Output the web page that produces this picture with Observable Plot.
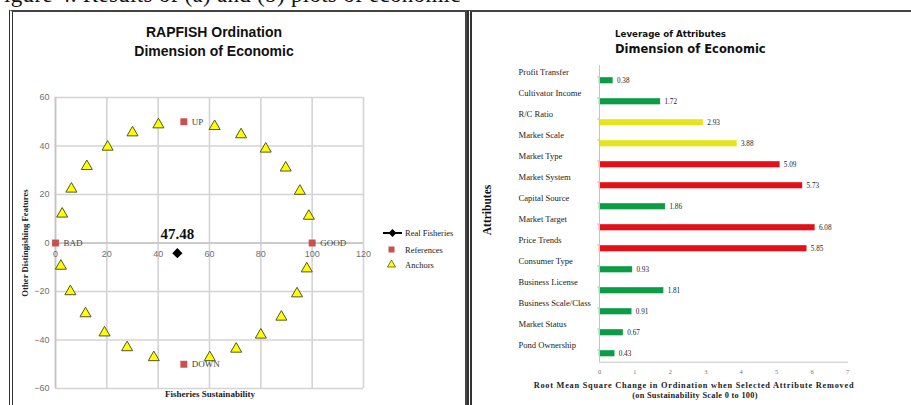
<!DOCTYPE html>
<html><head><meta charset="utf-8">
<script src="https://cdn.jsdelivr.net/npm/d3@7"></script>
<script src="https://cdn.jsdelivr.net/npm/@observablehq/plot@0.6"></script>
<style>
body{margin:0;background:#fff;}
#page{position:relative;width:911px;height:405px;overflow:hidden;background:#fff;font-family:"Liberation Serif",serif;}
.abs{position:absolute;white-space:nowrap;}
</style></head><body><div id="page"></div>
<script>
// ---- Left chart data: RAPFISH ordination ----
const anchorX = [2.6, 6.2, 12.2, 20.3, 30, 40.1, 62, 72.3, 81.9, 89.7, 95.2, 98.7,
                 2.1, 5.8, 11.7, 19.1, 27.9, 38.3, 60.1, 70.4, 80, 88, 94.1, 97.9];
const anchorY = [12, 22.3, 31.6, 39.6, 45.5, 48.8, 48.1, 44.7, 38.8, 31, 21.4, 11.1,
                 -9.5, -20, -29.1, -37, -43.1, -47.2, -47.2, -43.7, -37.9, -30.5, -20.9, -10.6];
const refLabels = ["BAD", "GOOD", "UP", "DOWN"];
const refX = [0, 100, 50, 50];
const refY = [0, 0, 50, -50];
const fisheriesX = [47.48];
const fisheriesY = [-4.2];
const ordXTicks = [0, 20, 40, 60, 80, 100, 120];
const ordYTicks = [-60, -40, -20, 0, 20, 40, 60];

// ---- Right chart data: leverage of attributes ----
const attributes = ["Profit Transfer", "Cultivator Income", "R/C Ratio", "Market Scale", "Market Type",
  "Market System", "Capital Source", "Market Target", "Price Trends", "Consumer Type",
  "Business License", "Business Scale/Class", "Market Status", "Pond Ownership"];
const leverage = [0.38, 1.72, 2.93, 3.88, 5.09, 5.73, 1.86, 6.08, 5.85, 0.93, 1.81, 0.91, 0.67, 0.43];
const levTicks = [0, 1, 2, 3, 4, 5, 6, 7];

const anchors = anchorX.map((x, i) => ({x, y: anchorY[i]}));
const refs = refLabels.map((l, i) => ({label: l, x: refX[i], y: refY[i]}));
const fisheries = fisheriesX.map((x, i) => ({x, y: fisheriesY[i]}));
const lev = attributes.map((a, i) => ({a, v: leverage[i]}));

const page = document.getElementById("page");
function add(html, css) {
  const d = document.createElement("div");
  d.className = "abs";
  d.innerHTML = html;
  Object.assign(d.style, css);
  page.appendChild(d);
  return d;
}

// partial caption at top (cut off in the source image)
add("Figure 4. Results of (a) and (b) plots of economic", {left: "-9px", top: "-17px", fontSize: "23px", fontFamily: "Liberation Serif", color: "#111", lineHeight: "23px", letterSpacing: "0.3px"});

// panel frames
add("", {left: "9px", top: "10px", width: "452px", height: "420px", borderLeft: "4px double #333", borderTop: "2px solid #444", borderRight: "2px solid #444"});
add("", {left: "467px", top: "10px", width: "460px", height: "420px", borderLeft: "5px double #333", borderTop: "2px solid #444"});

// ---- left chart ----
add("RAPFISH Ordination", {left: "214px", top: "24px", transform: "translateX(-50%)", fontFamily: "Liberation Sans", fontWeight: "bold", fontSize: "14px", color: "#111", lineHeight: "16px"});
add("Dimension of Economic", {left: "214px", top: "43px", transform: "translateX(-50%)", fontFamily: "Liberation Sans", fontWeight: "bold", fontSize: "14px", color: "#111", lineHeight: "16px"});

const left = Plot.plot({
  width: 445, height: 345,
  marginLeft: 41, marginRight: 96, marginTop: 37, marginBottom: 17,
  x: {domain: [0, 120], axis: null},
  y: {domain: [-60, 60]},
  style: {fontFamily: "Liberation Sans", fontSize: "9px", background: "transparent", overflow: "visible"},
  marks: [
    Plot.gridX(ordXTicks, {stroke: "#d4d4d4", strokeOpacity: 1, strokeWidth: 1.6}),
    Plot.gridY(ordYTicks, {stroke: "#d4d4d4", strokeOpacity: 1, strokeWidth: 1.6}),
    Plot.ruleX([0], {stroke: "#c4c4c4", strokeWidth: 1.6}),
    Plot.ruleY([0], {stroke: "#c4c4c4", strokeWidth: 1.6}),
    Plot.axisY(ordYTicks, {tickSize: 0, tickPadding: 6, label: null, fill: "#707070", fontSize: 9}),
    Plot.text(ordXTicks, {x: d => d, y: () => 0, dy: 11, text: d => String(d), fill: "#707070", fontSize: 9}),
    Plot.dot(anchors, {x: "x", y: "y", symbol: "triangle", r: 4.1, fill: "#ffff00", stroke: "#55552a", strokeWidth: 1}),
    Plot.dot(refs, {x: "x", y: "y", symbol: "square", r: 3.9, fill: "#c9504d", stroke: "none"}),
    Plot.text(refs, {x: "x", y: "y", text: "label", dx: 8, textAnchor: "start", fontFamily: "Liberation Serif", fontSize: 9, fill: "#444"}),
    Plot.dot(fisheries, {x: "x", y: "y", symbol: "diamond2", r: 4.6, fill: "#000", stroke: "none"}),
    Plot.text(fisheries, {x: "x", y: "y", text: d => d.x.toFixed(2), dy: -19, fontFamily: "Liberation Serif", fontWeight: "bold", fontSize: 15, fill: "#111"})
  ]
});
left.style.position = "absolute";
left.style.left = "14px";
left.style.top = "60px";
page.appendChild(left);

add("Fisheries Sustainability", {left: "210px", top: "389px", transform: "translateX(-50%)", fontFamily: "Liberation Serif", fontWeight: "bold", fontSize: "9px", color: "#222", lineHeight: "11px"});
add("Other Distingishing Features", {left: "25px", top: "243px", transform: "translate(-50%,-50%) rotate(-90deg)", fontFamily: "Liberation Serif", fontWeight: "bold", fontSize: "8.7px", color: "#222"});

// legend
add(`<svg width="80" height="50" style="display:block">
  <line x1="3" y1="13" x2="22" y2="13" stroke="#000" stroke-width="2"/>
  <path d="M12.5,9 L16.5,13 L12.5,17 L8.5,13Z" fill="#000"/>
  <rect x="8.5" y="26.5" width="6" height="6" fill="#c9504d"/>
  <path d="M11.5,40 L15.5,47 L7.5,47Z" fill="#ffff00" stroke="#55552a" stroke-width="0.8"/>
</svg>`, {left: "380px", top: "220px"});
add("Real Fisheries", {left: "405px", top: "228px", fontSize: "8.5px", color: "#222", lineHeight: "10px"});
add("References", {left: "405px", top: "244.5px", fontSize: "8.5px", color: "#222", lineHeight: "10px"});
add("Anchors", {left: "405px", top: "260px", fontSize: "8.5px", color: "#222", lineHeight: "10px"});

// ---- right chart ----
add("Leverage of Attributes", {left: "615px", top: "29px", fontFamily: "DejaVu Sans", fontWeight: "bold", fontSize: "8.7px", color: "#111", lineHeight: "11px"});
add("Dimension of Economic", {left: "615px", top: "43px", fontFamily: "DejaVu Sans", fontWeight: "bold", fontSize: "11.5px", color: "#111", lineHeight: "13px"});

const right = Plot.plot({
  width: 441, height: 345,
  marginLeft: 129, marginRight: 64, marginTop: 5, marginBottom: 43.3,
  x: {domain: [0, 7]},
  y: {type: "band", domain: attributes, padding: 0},
  color: {type: "threshold", domain: [2.5, 4.5], range: ["#0c9c46", "#e6e41c", "#e3101a"]},
  style: {fontFamily: "Liberation Serif", fontSize: "8px", background: "transparent", overflow: "visible"},
  marks: [
    Plot.barX(lev, {x: "v", y: "a", fill: "v", stroke: "v", strokeOpacity: 0.6, strokeWidth: 0.6, insetTop: 11.3, insetBottom: 3.9}),
    Plot.ruleX([0], {stroke: "#c4c4c4", strokeWidth: 1}),
    Plot.frame({anchor: "bottom", stroke: "#c4c4c4", strokeWidth: 1}),
    Plot.axisY({tickSize: 2, tickFormat: () => "", stroke: "#c4c4c4", label: null}),
    Plot.axisX(levTicks, {tickSize: 0, tickPadding: 7, label: null, fill: "#777", fontSize: 6.5}),
    Plot.text(lev, {y: "a", text: "a", frameAnchor: "left", dx: -81, dy: -5, textAnchor: "start", fontSize: 8.6, fill: "#222"}),
    Plot.text(lev, {x: "v", y: "a", text: d => d.v.toFixed(2), dx: 4, dy: 3.7, textAnchor: "start", fontSize: 7.2, fill: "#222"})
  ]
});
right.style.position = "absolute";
right.style.left = "470px";
right.style.top = "60px";
page.appendChild(right);

add("Attributes", {left: "487px", top: "210px", transform: "translate(-50%,-50%) rotate(-90deg)", fontFamily: "Liberation Serif", fontWeight: "bold", fontSize: "11.5px", color: "#111"});
add("Root Mean Square Change in Ordination when Selected Attribute Removed", {left: "694px", top: "381px", transform: "translateX(-50%)", fontFamily: "Liberation Serif", fontWeight: "bold", fontSize: "8.3px", color: "#222", lineHeight: "10px", letterSpacing: "0.75px"});
add("(on Sustainability Scale 0 to 100)", {left: "695px", top: "391px", transform: "translateX(-50%)", fontFamily: "Liberation Serif", fontWeight: "bold", fontSize: "8.3px", color: "#222", lineHeight: "10px", letterSpacing: "0.3px"});
</script></body></html>
